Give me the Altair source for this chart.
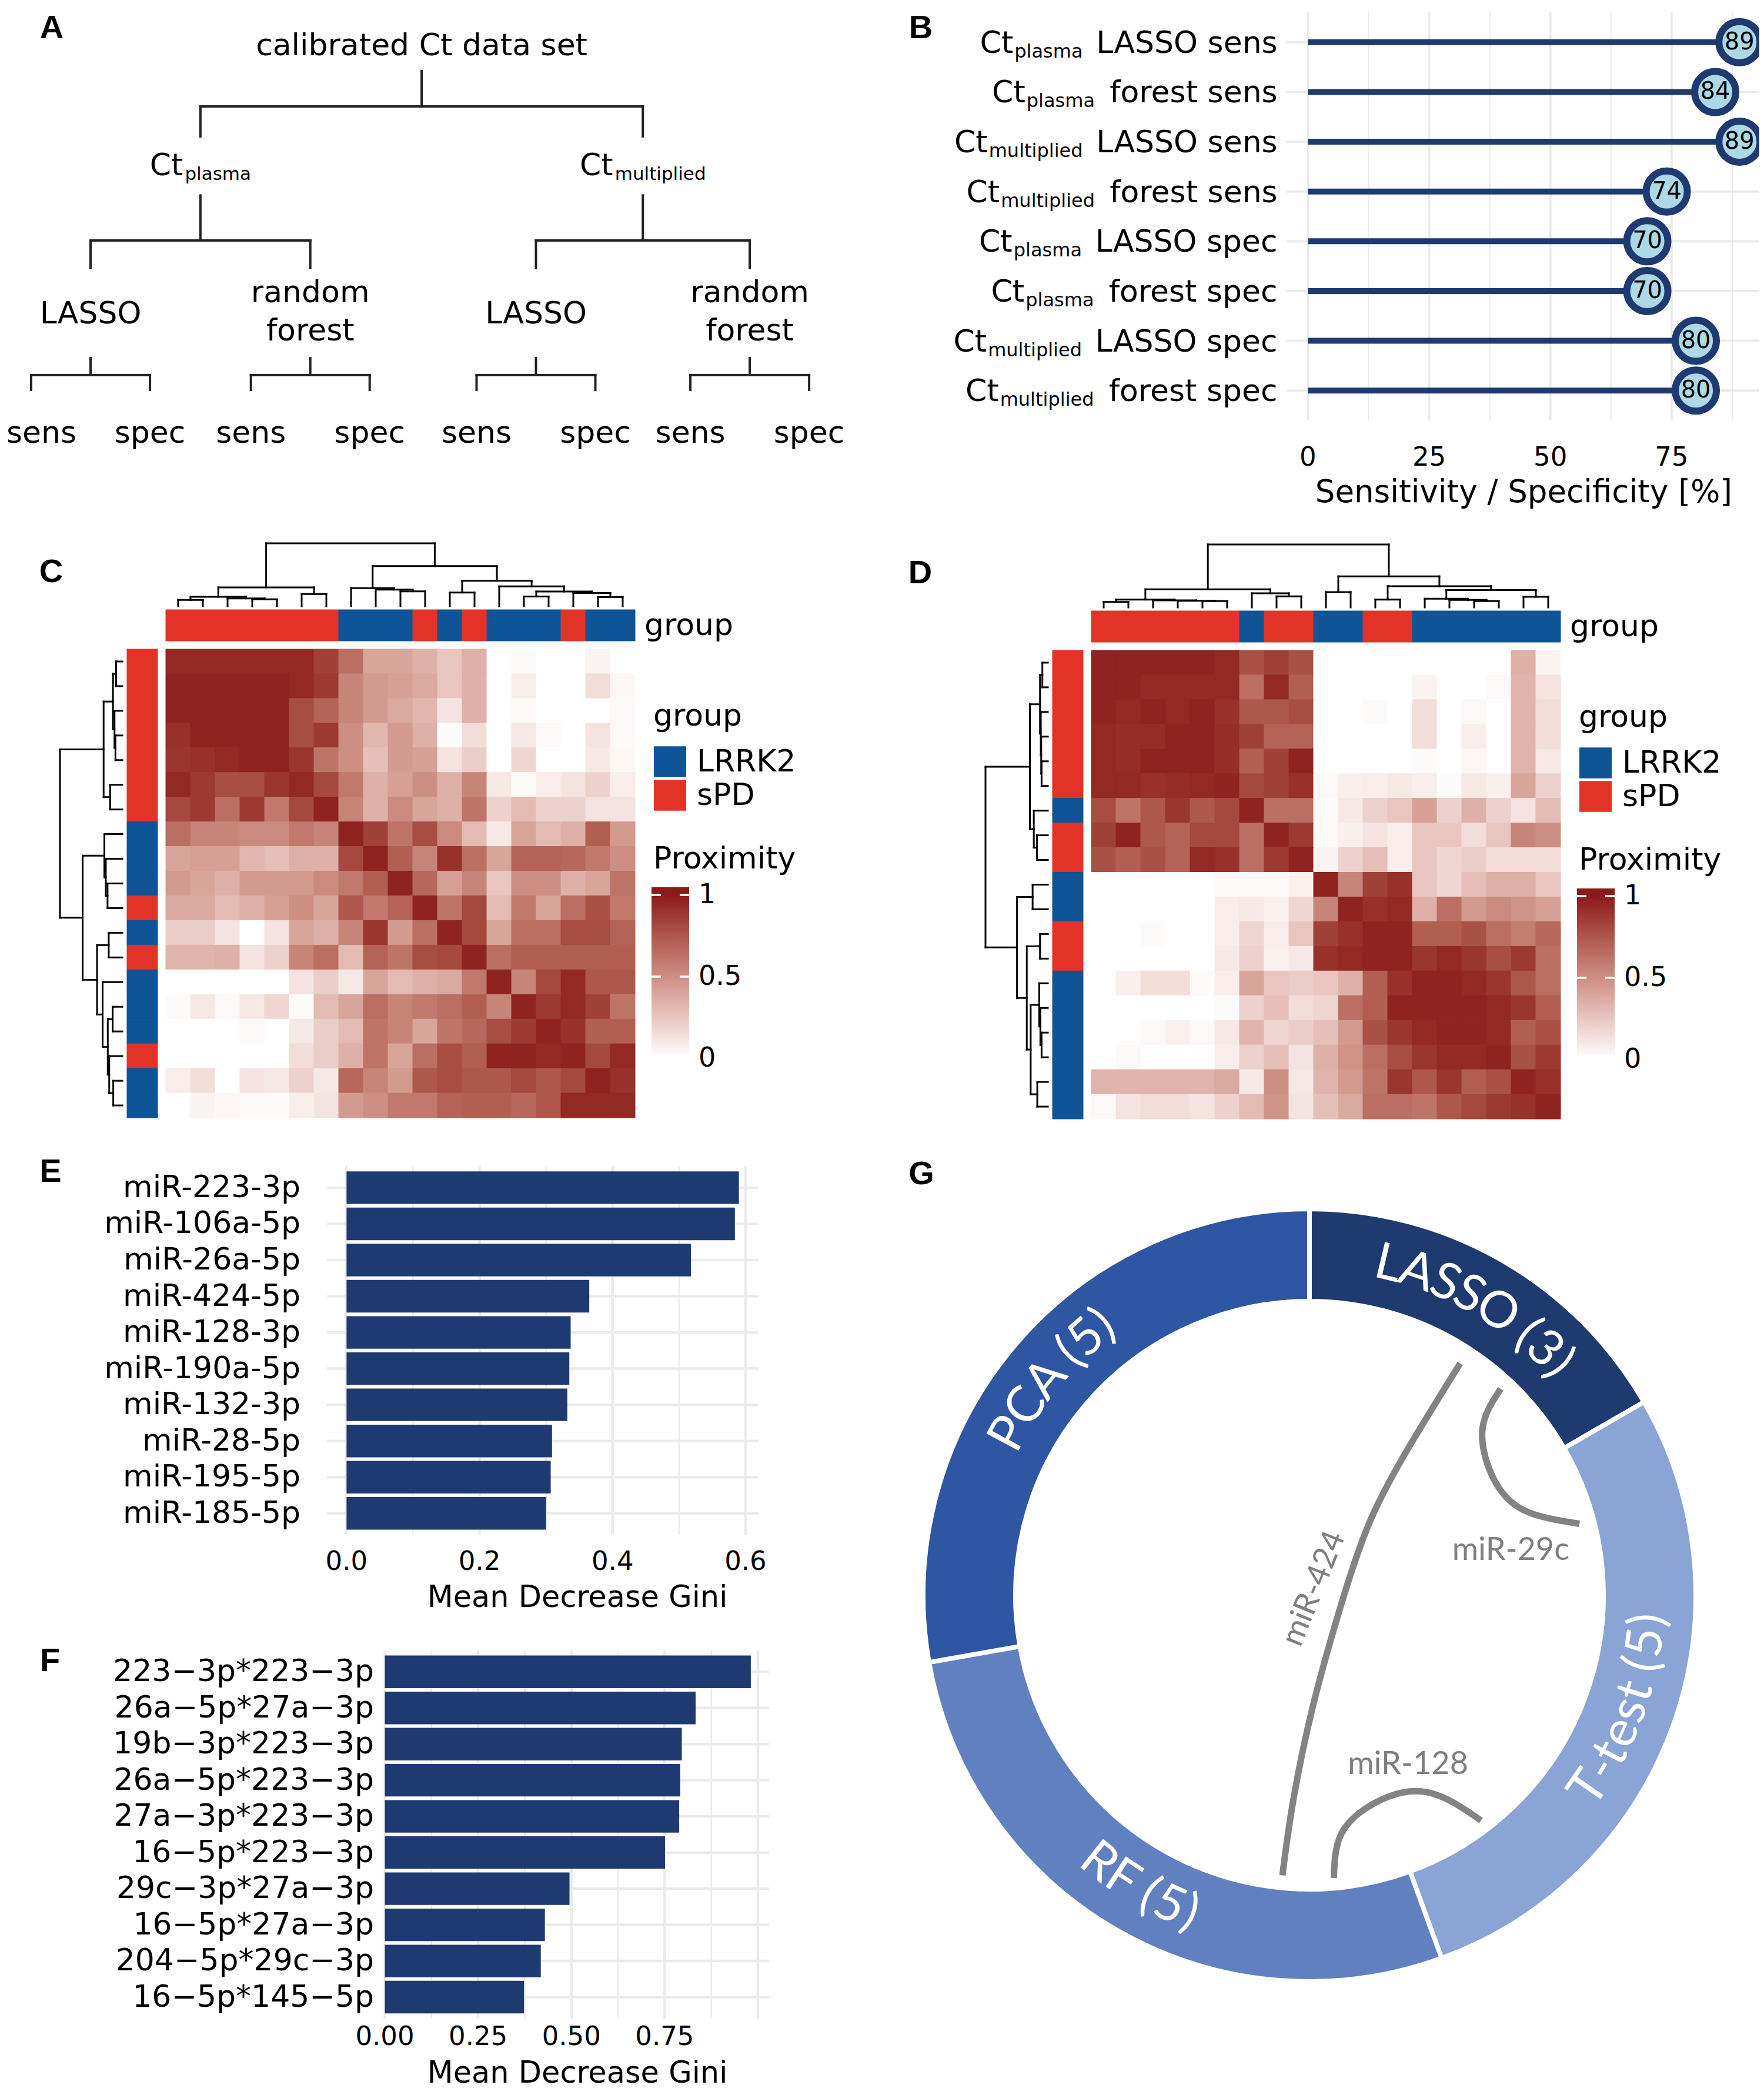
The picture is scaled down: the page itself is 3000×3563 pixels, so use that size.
import math
import altair as alt
import pandas as pd

# ------------------------------------------------------------------ data
A_ROOT = "calibrated Ct data set"
A_SUB = ["plasma", "multiplied"]
A_METHODS = ["LASSO", "random\nforest", "LASSO", "random\nforest"]
A_LEAVES = ["sens", "spec", "sens", "spec", "sens", "spec", "sens", "spec"]
A_LEAF_SLOTS = [0, 1, 1.85, 2.85, 3.75, 4.75, 5.55, 6.55]

B_SUB = ["plasma", "plasma", "multiplied", "multiplied", "plasma", "plasma", "multiplied", "multiplied"]
B_MAIN = ["LASSO sens", "forest sens", "LASSO sens", "forest sens",
          "LASSO spec", "forest spec", "LASSO spec", "forest spec"]
B_VALUES = [89, 84, 89, 74, 70, 70, 80, 80]
B_TICKS = [0, 25, 50, 75]
B_MINOR = [12.5, 37.5, 62.5, 87.5]

C_GROUPS = ["sPD"] * 7 + ["LRRK2"] * 3 + ["sPD", "LRRK2", "sPD"] + ["LRRK2"] * 3 + ["sPD"] + ["LRRK2"] * 2
C_MATRIX = [
    [0.95, 0.95, 0.95, 0.95, 0.95, 0.95, 0.85, 0.65, 0.40, 0.40, 0.35, 0.25, 0.35, 0.00, 0.02, 0.00, 0.00, 0.05, 0.00],
    [0.97, 0.97, 0.97, 0.97, 0.97, 0.95, 0.88, 0.55, 0.45, 0.42, 0.38, 0.25, 0.35, 0.00, 0.08, 0.00, 0.00, 0.15, 0.04],
    [0.97, 0.97, 0.97, 0.97, 0.97, 0.80, 0.70, 0.55, 0.45, 0.38, 0.32, 0.12, 0.35, 0.00, 0.03, 0.00, 0.00, 0.00, 0.03],
    [0.92, 0.97, 0.97, 0.97, 0.97, 0.80, 0.88, 0.50, 0.32, 0.45, 0.35, 0.02, 0.15, 0.00, 0.10, 0.03, 0.00, 0.12, 0.03],
    [0.90, 0.92, 0.95, 0.97, 0.97, 0.90, 0.62, 0.50, 0.28, 0.45, 0.42, 0.12, 0.22, 0.00, 0.18, 0.00, 0.00, 0.10, 0.04],
    [0.95, 0.88, 0.80, 0.80, 0.90, 0.95, 0.82, 0.60, 0.35, 0.42, 0.50, 0.35, 0.55, 0.10, 0.03, 0.08, 0.12, 0.20, 0.08],
    [0.82, 0.88, 0.65, 0.88, 0.60, 0.82, 0.97, 0.55, 0.35, 0.52, 0.40, 0.35, 0.62, 0.20, 0.30, 0.20, 0.20, 0.12, 0.12],
    [0.65, 0.55, 0.55, 0.52, 0.52, 0.60, 0.55, 0.97, 0.85, 0.62, 0.80, 0.52, 0.30, 0.10, 0.40, 0.30, 0.35, 0.72, 0.45],
    [0.40, 0.42, 0.42, 0.32, 0.28, 0.35, 0.35, 0.82, 0.97, 0.72, 0.55, 0.92, 0.65, 0.40, 0.70, 0.70, 0.68, 0.60, 0.50],
    [0.45, 0.40, 0.35, 0.45, 0.45, 0.45, 0.52, 0.60, 0.72, 0.97, 0.68, 0.42, 0.55, 0.25, 0.50, 0.50, 0.35, 0.40, 0.62],
    [0.38, 0.38, 0.30, 0.35, 0.42, 0.50, 0.40, 0.75, 0.60, 0.70, 0.97, 0.62, 0.82, 0.30, 0.60, 0.40, 0.65, 0.78, 0.60],
    [0.22, 0.22, 0.12, 0.00, 0.12, 0.40, 0.35, 0.55, 0.90, 0.45, 0.65, 0.97, 0.82, 0.40, 0.65, 0.65, 0.80, 0.80, 0.70],
    [0.33, 0.33, 0.35, 0.12, 0.20, 0.55, 0.65, 0.30, 0.70, 0.62, 0.80, 0.82, 0.97, 0.65, 0.72, 0.72, 0.72, 0.72, 0.72],
    [0.00, 0.00, 0.00, 0.00, 0.00, 0.12, 0.22, 0.10, 0.40, 0.30, 0.35, 0.38, 0.60, 0.97, 0.55, 0.82, 0.95, 0.75, 0.75],
    [0.02, 0.10, 0.03, 0.10, 0.18, 0.02, 0.30, 0.40, 0.65, 0.55, 0.60, 0.65, 0.72, 0.55, 0.97, 0.88, 0.95, 0.85, 0.62],
    [0.00, 0.00, 0.00, 0.03, 0.00, 0.10, 0.22, 0.30, 0.62, 0.55, 0.40, 0.62, 0.68, 0.80, 0.88, 0.97, 0.92, 0.72, 0.72],
    [0.00, 0.00, 0.00, 0.00, 0.00, 0.15, 0.22, 0.35, 0.62, 0.40, 0.65, 0.80, 0.72, 0.97, 0.97, 0.95, 0.97, 0.82, 0.95],
    [0.08, 0.15, 0.00, 0.12, 0.10, 0.20, 0.10, 0.68, 0.55, 0.45, 0.75, 0.80, 0.75, 0.75, 0.82, 0.75, 0.82, 0.97, 0.92],
    [0.00, 0.05, 0.04, 0.02, 0.02, 0.08, 0.12, 0.45, 0.50, 0.60, 0.60, 0.70, 0.72, 0.72, 0.68, 0.75, 0.95, 0.95, 0.95],
]
# merges (left, right, height) - scipy style, leaves 0..18
C_LINKAGE = [
    (0, 1, 0.10), (3, 4, 0.11), (2, 20, 0.125), (19, 21, 0.15), (5, 6, 0.195), (22, 23, 0.30),
    (9, 10, 0.237), (8, 25, 0.265), (7, 26, 0.288), (11, 12, 0.218), (14, 15, 0.155),
    (17, 18, 0.145), (16, 30, 0.21), (29, 31, 0.233), (13, 32, 0.316), (28, 33, 0.405),
    (27, 34, 0.637), (24, 35, 1.0),
]

D_GROUPS = ["sPD"] * 6 + ["LRRK2"] + ["sPD"] * 2 + ["LRRK2"] * 2 + ["sPD"] * 2 + ["LRRK2"] * 6
D_MATRIX = [
    [0.97, 0.97, 0.97, 0.97, 0.97, 0.95, 0.78, 0.85, 0.78, 0.00, 0.00, 0.00, 0.00, 0.00, 0.00, 0.00, 0.00, 0.35, 0.05],
    [0.97, 0.97, 0.95, 0.95, 0.95, 0.95, 0.65, 0.95, 0.72, 0.00, 0.00, 0.00, 0.00, 0.05, 0.00, 0.00, 0.03, 0.33, 0.12],
    [0.97, 0.95, 0.97, 0.95, 0.97, 0.92, 0.75, 0.75, 0.80, 0.00, 0.00, 0.02, 0.00, 0.15, 0.00, 0.03, 0.00, 0.33, 0.15],
    [0.95, 0.93, 0.93, 0.97, 0.97, 0.93, 0.85, 0.70, 0.70, 0.00, 0.00, 0.00, 0.00, 0.15, 0.00, 0.08, 0.00, 0.33, 0.15],
    [0.95, 0.93, 0.97, 0.97, 0.97, 0.93, 0.72, 0.85, 0.97, 0.00, 0.00, 0.00, 0.00, 0.02, 0.00, 0.04, 0.00, 0.33, 0.10],
    [0.95, 0.95, 0.92, 0.93, 0.95, 0.97, 0.82, 0.85, 0.92, 0.03, 0.07, 0.08, 0.10, 0.08, 0.02, 0.10, 0.07, 0.40, 0.20],
    [0.80, 0.62, 0.75, 0.90, 0.75, 0.82, 0.97, 0.65, 0.65, 0.02, 0.10, 0.20, 0.25, 0.42, 0.20, 0.35, 0.20, 0.12, 0.30],
    [0.85, 0.97, 0.75, 0.70, 0.82, 0.82, 0.65, 0.97, 0.88, 0.02, 0.07, 0.12, 0.08, 0.25, 0.25, 0.15, 0.25, 0.55, 0.50],
    [0.78, 0.72, 0.78, 0.70, 0.95, 0.92, 0.65, 0.88, 0.97, 0.05, 0.20, 0.28, 0.08, 0.25, 0.18, 0.22, 0.15, 0.15, 0.15],
    [0.00, 0.00, 0.00, 0.00, 0.00, 0.03, 0.03, 0.03, 0.06, 0.97, 0.55, 0.85, 0.92, 0.25, 0.18, 0.28, 0.35, 0.35, 0.25],
    [0.00, 0.00, 0.00, 0.00, 0.00, 0.08, 0.10, 0.06, 0.18, 0.55, 0.97, 0.92, 0.95, 0.35, 0.65, 0.45, 0.52, 0.48, 0.42],
    [0.00, 0.00, 0.02, 0.00, 0.00, 0.08, 0.18, 0.08, 0.25, 0.85, 0.92, 0.97, 0.97, 0.72, 0.72, 0.78, 0.65, 0.58, 0.68],
    [0.00, 0.00, 0.00, 0.00, 0.00, 0.10, 0.20, 0.06, 0.10, 0.92, 0.95, 0.97, 0.97, 0.90, 0.95, 0.90, 0.80, 0.88, 0.65],
    [0.00, 0.07, 0.15, 0.15, 0.02, 0.08, 0.40, 0.25, 0.22, 0.25, 0.35, 0.72, 0.92, 0.97, 0.97, 0.95, 0.90, 0.75, 0.65],
    [0.00, 0.00, 0.00, 0.00, 0.00, 0.02, 0.20, 0.28, 0.15, 0.18, 0.65, 0.72, 0.97, 0.97, 0.97, 0.97, 0.95, 0.90, 0.72],
    [0.00, 0.00, 0.03, 0.06, 0.03, 0.10, 0.33, 0.18, 0.22, 0.28, 0.45, 0.78, 0.90, 0.95, 0.97, 0.97, 0.95, 0.72, 0.78],
    [0.00, 0.03, 0.00, 0.00, 0.00, 0.08, 0.20, 0.28, 0.12, 0.35, 0.48, 0.65, 0.80, 0.90, 0.95, 0.95, 0.97, 0.78, 0.88],
    [0.33, 0.33, 0.33, 0.33, 0.33, 0.38, 0.10, 0.50, 0.10, 0.33, 0.45, 0.62, 0.90, 0.75, 0.90, 0.72, 0.78, 0.97, 0.92],
    [0.03, 0.12, 0.15, 0.15, 0.12, 0.20, 0.30, 0.48, 0.12, 0.28, 0.38, 0.65, 0.65, 0.62, 0.75, 0.82, 0.88, 0.92, 0.97],
]
D_LINKAGE = [
    (0, 1, 0.0875), (4, 5, 0.10), (3, 20, 0.106), (2, 21, 0.1125), (19, 22, 0.125),
    (7, 8, 0.175), (6, 24, 0.225), (23, 25, 0.2875), (9, 10, 0.244), (11, 12, 0.125),
    (15, 16, 0.10), (14, 29, 0.119), (13, 30, 0.1375), (17, 18, 0.169), (31, 32, 0.275),
    (28, 33, 0.3375), (27, 34, 0.494), (26, 35, 1.0),
]

E_NAMES = ["miR-223-3p", "miR-106a-5p", "miR-26a-5p", "miR-424-5p", "miR-128-3p",
           "miR-190a-5p", "miR-132-3p", "miR-28-5p", "miR-195-5p", "miR-185-5p"]
E_VALUES = [0.590, 0.584, 0.518, 0.365, 0.337, 0.335, 0.332, 0.309, 0.307, 0.300]
E_TICKS = [0.0, 0.2, 0.4, 0.6]
E_MINOR = [0.1, 0.3, 0.5]

M = "\u2212"
F_NAMES = [f"223{M}3p*223{M}3p", f"26a{M}5p*27a{M}3p", f"19b{M}3p*223{M}3p", f"26a{M}5p*223{M}3p",
           f"27a{M}3p*223{M}3p", f"16{M}5p*223{M}3p", f"29c{M}3p*27a{M}3p", f"16{M}5p*27a{M}3p",
           f"204{M}5p*29c{M}3p", f"16{M}5p*145{M}5p"]
F_VALUES = [0.981, 0.833, 0.796, 0.792, 0.789, 0.751, 0.495, 0.429, 0.418, 0.373]
F_TICKS = [0.0, 0.25, 0.5, 0.75]
F_GRID = [0.0, 0.25, 0.5, 0.75, 1.0]
F_MINOR = [0.125, 0.375, 0.625, 0.875]

G_SETS = ["LASSO", "T-test", "RF", "PCA"]
G_COUNTS = [3, 5, 5, 5]
G_COLORS = ["#1E3A6E", "#89A4D5", "#6080C0", "#2E56A3"]
G_LINKS = ["miR-424", "miR-29c", "miR-128"]
G_LINK_PATHS = [
    [(0.390, 0.600), (0.269, 0.403), (0.160, 0.199), (0.080, -0.031), (0.007, -0.295), (-0.044, -0.543), (-0.070, -0.725)],
    [(0.495, 0.534), (0.448, 0.432), (0.473, 0.309), (0.553, 0.221), (0.699, 0.185)],
    [(0.063, -0.732), (0.080, -0.623), (0.160, -0.543), (0.298, -0.509), (0.444, -0.583)],
]
G_LINK_LABEL_POS = [(0.012, 0.017), (0.521, 0.115), (0.255, -0.438)]
G_LINK_LABEL_ANGLE = [292, 0, 0]

LETTERS = [("A", 88, 48), ("B", 1566, 48), ("C", 87, 973), ("D", 1565, 975),
           ("E", 86, 1993), ("F", 85, 2825), ("G", 1567, 1997)]

# ------------------------------------------------------------------ style
OFF = 8
W, H = 2984, 3547
FONT = "DejaVu Sans"
GFONT = "Lato"
NAVY = "#1F3A70"
GRID = "#EBEBEB"
BLUE = "#0E5497"
RED = "#E33228"
DARK = "#8B1A1A"
LIGHT = "#ADD8E6"
LINKC = "#838383"

DJV = {' ': 651, '(': 799, ')': 799, '*': 1024, '-': 739, '.': 651, '/': 690, '%': 1946, '[': 799,
       ']': 799, '\u2212': 1716, 'A': 1401, 'B': 1405, 'C': 1430, 'D': 1577, 'E': 1294, 'F': 1178,
       'G': 1587, 'K': 1343, 'L': 1141, 'M': 1767, 'O': 1612, 'P': 1235, 'R': 1423, 'S': 1300,
       'T': 1251, 'a': 1255, 'b': 1300, 'c': 1126, 'd': 1300, 'e': 1260, 'f': 721, 'g': 1300,
       'h': 1298, 'i': 569, 'l': 569, 'm': 1995, 'n': 1298, 'o': 1253, 'p': 1300, 'r': 842,
       's': 1067, 't': 803, 'u': 1298, 'v': 1212, 'x': 1212, 'y': 1212}
LATO = {'L': 0.50, 'A': 0.68, 'S': 0.52, 'O': 0.78, ' ': 0.20, '(': 0.31, ')': 0.31, '3': 0.58,
        '5': 0.58, 'T': 0.59, '-': 0.34, 't': 0.37, 'e': 0.53, 's': 0.42, 'R': 0.60, 'F': 0.54,
        'P': 0.58, 'C': 0.67}


def tw(s, size):
    return sum(DJV.get(ch, 1303) for ch in s) / 2048.0 * size


def sc(domain, rng):
    return alt.Scale(domain=list(domain), range=[r - OFF for r in rng], nice=False, zero=False)


def inv(px, domain, rng):
    d0, d1 = domain
    p0, p1 = rng
    return d0 + (px - p0) * (d1 - d0) / (p1 - p0)


# LAB interpolation white -> DARK (for the colour bar stops)
def _tolin(c):
    c = c / 255.0
    return c / 12.92 if c <= 0.04045 else ((c + 0.055) / 1.055) ** 2.4


def _togam(c):
    c = 12.92 * c if c <= 0.0031308 else 1.055 * (max(c, 0) ** (1 / 2.4)) - 0.055
    return max(0, min(255, int(round(c * 255))))


def _f(t):
    return t ** (1 / 3) if t > 0.008856 else 7.787 * t + 16 / 116


def _finv(t):
    return t ** 3 if t ** 3 > 0.008856 else (t - 16 / 116) / 7.787


def hex2lab(h):
    r, g, b = (_tolin(int(h[i:i + 2], 16)) for i in (1, 3, 5))
    X = (0.4124 * r + 0.3576 * g + 0.1805 * b) / 0.95047
    Y = 0.2126 * r + 0.7152 * g + 0.0722 * b
    Z = (0.0193 * r + 0.1192 * g + 0.9505 * b) / 1.08883
    return 116 * _f(Y) - 16, 500 * (_f(X) - _f(Y)), 200 * (_f(Y) - _f(Z))


def lab2hex(L, a, b):
    fy = (L + 16) / 116
    X = _finv(fy + a / 500) * 0.95047
    Y = _finv(fy)
    Z = _finv(fy - b / 200) * 1.08883
    r = 3.2406 * X - 1.5372 * Y - 0.4986 * Z
    g = -0.9689 * X + 1.8758 * Y + 0.0415 * Z
    bb = 0.0557 * X - 0.2040 * Y + 1.0570 * Z
    return "#%02X%02X%02X" % (_togam(r), _togam(g), _togam(bb))


LAB0, LAB1 = hex2lab("#FFFFFF"), hex2lab(DARK)


def heat_color(t):
    t = max(0.0, min(1.0, t))
    return lab2hex(*[p + (q - p) * t for p, q in zip(LAB0, LAB1)])


LAYERS = []


def rules(rows, xs, ys, color="black", width=3, cap="butt"):
    df = pd.DataFrame(rows, columns=["x", "y", "x2", "y2"])
    LAYERS.append(alt.Chart(df).mark_rule(color=color, strokeWidth=width, strokeCap=cap).encode(
        x=alt.X("x:Q", scale=xs, axis=None), y=alt.Y("y:Q", scale=ys, axis=None),
        x2="x2", y2="y2"))


def texts(rows, xs, ys, size, align="center", baseline="middle", font=FONT, color="black",
          dy=0, weight="normal", line_height=None, angle=None, angle_field=False):
    cols = ["x", "y", "t"] + (["a"] if angle_field else [])
    df = pd.DataFrame(rows, columns=cols)
    kw = dict(fontSize=size, align=align, baseline=baseline, font=font, color=color, fontWeight=weight)
    if dy:
        kw["dy"] = dy
    if line_height:
        kw["lineBreak"] = "\n"
        kw["lineHeight"] = line_height
    if angle:
        kw["angle"] = angle
    enc = dict(x=alt.X("x:Q", scale=xs, axis=None), y=alt.Y("y:Q", scale=ys, axis=None),
               text=alt.Text("t:N"))
    if angle_field:
        enc["angle"] = alt.Angle("a:Q", scale=None)
    LAYERS.append(alt.Chart(df).mark_text(**kw).encode(**enc))


def rects(rows, xs, ys, fill):
    df = pd.DataFrame(rows, columns=["x", "y", "x2", "y2"])
    LAYERS.append(alt.Chart(df).mark_rect(fill=fill).encode(
        x=alt.X("x:Q", scale=xs, axis=None), y=alt.Y("y:Q", scale=ys, axis=None),
        x2="x2", y2="y2"))


# ------------------------------------------------------------------ panel A
A_XD, A_XR = (0, 6.55), (53, 1376.1)
Ax = sc(A_XD, A_XR)
Ay = alt.Scale(domain=[0, 1, 2, 3], range=[78 - OFF, 282 - OFF, 534 - OFF, 737 - OFF], nice=False, zero=False)
A_PPS = (A_XR[1] - A_XR[0]) / (A_XD[1] - A_XD[0])
l2x = [(A_LEAF_SLOTS[2 * k] + A_LEAF_SLOTS[2 * k + 1]) / 2 for k in range(4)]
l1x = [(l2x[0] + l2x[1]) / 2, (l2x[2] + l2x[3]) / 2]
rootx = (l1x[0] + l1x[1]) / 2
STEM = [0.21, 1.2, 2.37]
BARL = [0.505, 1.504, 2.512]
DROP = [0.755, 1.69, 2.635]
tree = [(0, rootx, l1x), (1, l1x[0], l2x[0:2]), (1, l1x[1], l2x[2:4])]
tree += [(2, l2x[k], A_LEAF_SLOTS[2 * k:2 * k + 2]) for k in range(4)]
seg = []
for lvl, px, kids in tree:
    seg.append((px, STEM[lvl], px, BARL[lvl]))
    seg.append((min(kids), BARL[lvl], max(kids), BARL[lvl]))
    for kx in kids:
        seg.append((kx, BARL[lvl], kx, DROP[lvl]))
rules(seg, Ax, Ay, "#222222", 4, "square")
texts([(rootx, 0, A_ROOT)], Ax, Ay, 52)
ct_rows, sub_rows = [], []
for x, sub in zip(l1x, A_SUB):
    wct, wsub = tw("Ct", 52), tw(sub, 31)
    left = x - (wct + 3 + wsub) / 2 / A_PPS
    ct_rows.append((left, 1, "Ct"))
    sub_rows.append((left + (wct + 3) / A_PPS, 1, sub))
texts(ct_rows, Ax, Ay, 52, align="left", baseline="alphabetic", dy=16)
texts(sub_rows, Ax, Ay, 31, align="left", baseline="alphabetic", dy=24)
one_line = [(x, 2, t) for x, t in zip(l2x, A_METHODS) if "\n" not in t]
two_line = [(x, 2, t) for x, t in zip(l2x, A_METHODS) if "\n" in t]
texts(one_line, Ax, Ay, 52)
texts(two_line, Ax, Ay, 52, line_height=65, dy=-36)
# keep the first leaf label inside the page
min_center = inv(10 + tw("sens", 52) / 2 + 1, A_XD, A_XR)
texts([(max(x, min_center), 3, t) for x, t in zip(A_LEAF_SLOTS, A_LEAVES)], Ax, Ay, 52)

# ------------------------------------------------------------------ panel B
B_XD, B_XR = (-4.45, 93.45), (2187.7, 2995.0)
B_YD, B_YR = (-0.6, 7.6), (21, 715)
Bx, By = sc(B_XD, B_XR), sc(B_YD, B_YR)
BPX = (B_XR[1] - B_XR[0]) / (B_XD[1] - B_XD[0])
nB = len(B_VALUES)
rules([(v, B_YD[0], v, B_YD[1]) for v in B_MINOR], Bx, By, GRID, 2)
rules([(v, B_YD[0], v, B_YD[1]) for v in B_TICKS], Bx, By, GRID, 4)
rules([(B_XD[0], i, B_XD[1], i) for i in range(nB)], Bx, By, GRID, 4)
rules([(0, i, v, i) for i, v in enumerate(B_VALUES)], Bx, By, NAVY, 10)
LAYERS.append(alt.Chart(pd.DataFrame({"x": B_VALUES, "y": list(range(nB))})).mark_point(
    shape="circle", filled=True, fill=LIGHT, stroke=NAVY, strokeWidth=12, size=4900, opacity=1,
    fillOpacity=1, strokeOpacity=1).encode(
    x=alt.X("x:Q", scale=Bx, axis=None), y=alt.Y("y:Q", scale=By, axis=None)))
texts([(v, i, str(v)) for i, v in enumerate(B_VALUES)], Bx, By, 40)
xr = inv(2172.7, B_XD, B_XR)
mrows, srows, crows = [], [], []
for i, (s, m) in enumerate(zip(B_SUB, B_MAIN)):
    sr = xr - (tw(m, 52) + 24) / BPX
    mrows.append((xr, i, m))
    srows.append((sr, i, s))
    crows.append((sr - (tw(s, 32) + 2) / BPX, i, "Ct"))
texts(mrows, Bx, By, 52, align="right", baseline="alphabetic", dy=18)
texts(srows, Bx, By, 32, align="right", baseline="alphabetic", dy=26)
texts(crows, Bx, By, 52, align="right", baseline="alphabetic", dy=18)
texts([(v, inv(778, B_YD, B_YR), str(v)) for v in B_TICKS], Bx, By, 45)
texts([((B_XD[0] + B_XD[1]) / 2, inv(838, B_YD, B_YR), "Sensitivity / Specificity [%]")], Bx, By, 53)


# ------------------------------------------------------------------ panels C, D
def dendro_segments(link, n):
    pos = {i: i + 0.5 for i in range(n)}
    hgt = {i: 0.0 for i in range(n)}
    out = []
    for k, (a, b, h) in enumerate(link):
        xa, xb = pos[a], pos[b]
        out.append((xa, hgt[a], xa, h))
        out.append((xb, hgt[b], xb, h))
        out.append((xa, h, xb, h))
        pos[n + k] = (xa + xb) / 2
        hgt[n + k] = h
    return out


heat_scale = dict(domain=[0, 1], range=["#FFFFFF", DARK], interpolate="lab")
grp_scale = dict(domain=["LRRK2", "sPD"], range=[BLUE, RED])


def heatmap(mat, groups, link, dx, dy):
    n = len(mat)
    HXD, HXR = (0, n), (282 + dx, 1080 + dx)
    X, Y = sc(HXD, HXR), sc((0, n), (1104 + dy, 1901 + dy))
    cells = [dict(x=c, x2=c + 1, y=r, y2=r + 1, v=mat[r][c]) for r in range(n) for c in range(n)]
    LAYERS.append(alt.Chart(pd.DataFrame(cells)).mark_rect(strokeWidth=1).encode(
        x=alt.X("x:Q", scale=X, axis=None), x2="x2", y=alt.Y("y:Q", scale=Y, axis=None), y2="y2",
        color=alt.Color("v:Q", scale=alt.Scale(**heat_scale), legend=None),
        stroke=alt.Stroke("v:Q", scale=alt.Scale(**heat_scale), legend=None)))
    # annotation bars
    Yb = sc((0, 1), (1037 + dy, 1090 + dy))
    cb = [dict(x=c, x2=c + 1, y=0, y2=1, g=groups[c]) for c in range(n)]
    LAYERS.append(alt.Chart(pd.DataFrame(cb)).mark_rect(strokeWidth=1).encode(
        x=alt.X("x:Q", scale=X, axis=None), x2="x2", y=alt.Y("y:Q", scale=Yb, axis=None), y2="y2",
        color=alt.Color("g:N", scale=alt.Scale(**grp_scale), legend=None),
        stroke=alt.Stroke("g:N", scale=alt.Scale(**grp_scale), legend=None)))
    Xb = sc((0, 1), (216 + dx, 268 + dx))
    rb = [dict(x=0, x2=1, y=r, y2=r + 1, g=groups[r]) for r in range(n)]
    LAYERS.append(alt.Chart(pd.DataFrame(rb)).mark_rect(strokeWidth=1).encode(
        x=alt.X("x:Q", scale=Xb, axis=None), x2="x2", y=alt.Y("y:Q", scale=Y, axis=None), y2="y2",
        color=alt.Color("g:N", scale=alt.Scale(**grp_scale), legend=None),
        stroke=alt.Stroke("g:N", scale=alt.Scale(**grp_scale), legend=None)))
    # dendrograms
    segs = dendro_segments(link, n)
    rules(segs, X, sc((0, 1), (1031 + dy, 924 + dy)), "black", 3, "square")
    rules([(h1, p1, h2, p2) for (p1, h1, p2, h2) in segs], sc((0, 1), (208 + dx, 102 + dx)), Y,
          "black", 3, "square")
    texts([(inv(1096 + dx, HXD, HXR), 0.5, "group")], X, Yb, 52, align="left")
    # group legend
    LXD, LXR = (0, 1), (1112 + dx, 1167 + dx)
    LYD, LYR = (0, 2), (1267 + dy, 1381 + dy)
    LX, LY = sc(LXD, LXR), sc(LYD, LYR)
    sq = [dict(x=0, x2=1, y=k + 0.04, y2=k + 0.96, g=g) for k, g in enumerate(["LRRK2", "sPD"])]
    LAYERS.append(alt.Chart(pd.DataFrame(sq)).mark_rect().encode(
        x=alt.X("x:Q", scale=LX, axis=None), x2="x2", y=alt.Y("y:Q", scale=LY, axis=None), y2="y2",
        color=alt.Color("g:N", scale=alt.Scale(**grp_scale), legend=None)))
    texts([(inv(1111 + dx, LXD, LXR), inv(1218 + dy, LYD, LYR), "group")], LX, LY, 52, align="left")
    texts([(inv(1185 + dx, LXD, LXR), k + 0.5, g) for k, g in enumerate(["LRRK2", "sPD"])],
          LX, LY, 52, align="left")
    # colour bar
    CXD, CXR = (0, 1), (1108 + dx, 1172 + dx)
    CYD, CYR = (0, 1), (1800 + dy, 1522 + dy)
    CX, CY = sc(CXD, CXR), sc(CYD, CYR)
    lo, hi = 0.025, 1.047
    stops = []
    for v in [0.025, 0.25, 0.5, 0.75, 1.0]:
        stops.append(alt.GradientStop(color=heat_color(v), offset=(v - lo) / (hi - lo)))
    stops.append(alt.GradientStop(color=heat_color(1.0), offset=1))
    grad = alt.LinearGradient(gradient="linear", stops=stops, x1=0, x2=0, y1=1, y2=0)
    rects([(0, lo, 1, hi)], CX, CY, grad)
    rules([(0, v, 0.25, v) for v in (0.5, 1.0)] + [(0.75, v, 1, v) for v in (0.5, 1.0)],
          CX, CY, "white", 3.5)
    texts([(inv(1188 + dx, CXD, CXR), v, t) for v, t in [(0, "0"), (0.5, "0.5"), (1, "1")]],
          CX, CY, 46, align="left")
    texts([(inv(1111 + dx, CXD, CXR), inv(1461 + dy, CYD, CYR), "Proximity")], CX, CY, 52, align="left")


heatmap(C_MATRIX, C_GROUPS, C_LINKAGE, 0, 0)
heatmap(D_MATRIX, D_GROUPS, D_LINKAGE, 1574, 2)


# ------------------------------------------------------------------ panels E, F
def barpanel(names, values, xd, xr, yd, yr, major, minor, ticks, fmt, label_px, tick_px, title_px):
    X, Y = sc(xd, xr), sc(yd, yr)
    rules([(v, yd[0], v, yd[1]) for v in minor], X, Y, GRID, 2.5)
    rules([(v, yd[0], v, yd[1]) for v in major], X, Y, GRID, 4.5)
    rules([(xd[0], i, xd[1], i) for i in range(len(values))], X, Y, GRID, 4.5)
    rects([(0, i - 0.45, v, i + 0.45) for i, v in enumerate(values)], X, Y, NAVY)
    texts([(inv(label_px, xd, xr), i, nm) for i, nm in enumerate(names)], X, Y, 52, align="right")
    texts([(v, inv(tick_px, yd, yr), fmt.format(v)) for v in ticks], X, Y, 45)
    texts([(inv(title_px[0], xd, xr), inv(title_px[1], yd, yr), "Mean Decrease Gini")], X, Y, 51)


barpanel(E_NAMES, E_VALUES, (-0.0295, 0.6195), (556, 1290), (-0.6, 9.6), (1983, 2610.7),
         E_TICKS, E_MINOR, E_TICKS, "{:.1f}", 511, 2655.6, (982, 2718))
barpanel(F_NAMES, F_VALUES, (0, 1.03), (654.5, 1308), (-0.6, 9.6), (2806.4, 3433.4),
         F_GRID, F_MINOR, F_TICKS, "{:.2f}", 636, 3464, (982, 3527))

# ------------------------------------------------------------------ panel G
G_XD, G_XR = (-1, 1), (1570, 2884)
G_YD, G_YR = (-1, 1), (3370, 2056)
Gx, Gy = sc(G_XD, G_XR), sc(G_YD, G_YR)
R_OUT = 657.0
R_IN = 500.0 / R_OUT
cum = [0]
for c in G_COUNTS:
    cum.append(cum[-1] + c)
ring = pd.DataFrame({"set": G_SETS, "c0": cum[:-1], "c1": cum[1:], "cx": 0.0, "cy": 0.0,
                     "ro": 1.0, "ri": R_IN})
LAYERS.append(alt.Chart(ring).mark_arc(stroke="white", strokeWidth=8).encode(
    x=alt.X("cx:Q", scale=Gx, axis=None), y=alt.Y("cy:Q", scale=Gy, axis=None),
    theta=alt.Theta("c0:Q", stack=False, scale=alt.Scale(domain=[0, cum[-1]], range=[0, 2 * math.pi])),
    theta2="c1",
    radius=alt.Radius("ro:Q", scale=alt.Scale(type="linear", domain=[0, 1], range=[0, R_OUT], zero=True, nice=False)),
    radius2="ri",
    color=alt.Color("set:N", scale=alt.Scale(domain=G_SETS, range=G_COLORS), legend=None)))

# curved ring labels
RT = (1 + R_IN) / 2
RT_PX = RT * R_OUT
GSIZE = 86
lab_rows = []
for s, c, a0, a1 in zip(G_SETS, G_COUNTS, cum[:-1], cum[1:]):
    label = f"{s} ({c})"
    center = (a0 + a1) / 2 / cum[-1] * 360
    ws = [LATO.get(ch, 0.55) * GSIZE for ch in label]
    total = sum(ws)
    upper = not (90 < center < 270)
    acc = 0.0
    for ch, w in zip(label, ws):
        off = math.degrees((acc + w / 2 - total / 2) / RT_PX)
        acc += w
        if ch == " ":
            continue
        th = center + off if upper else center - off
        rot = th if upper else th - 180
        lab_rows.append((RT * math.sin(math.radians(th)), RT * math.cos(math.radians(th)), ch, rot % 360))
texts(lab_rows, Gx, Gy, GSIZE, font=GFONT, color="white", angle_field=True)

# links
lk = []
for nm, pts in zip(G_LINKS, G_LINK_PATHS):
    for i, (x, y) in enumerate(pts):
        lk.append(dict(name=nm, i=i, x=x, y=y))
LAYERS.append(alt.Chart(pd.DataFrame(lk)).mark_line(color=LINKC, strokeWidth=11, interpolate="natural").encode(
    x=alt.X("x:Q", scale=Gx, axis=None), y=alt.Y("y:Q", scale=Gy, axis=None),
    detail="name:N", order="i:Q"))
for nm, (x, y), ang in zip(G_LINKS, G_LINK_LABEL_POS, G_LINK_LABEL_ANGLE):
    texts([(x, y, nm)], Gx, Gy, 54, font=GFONT, color="#7F7F7F", angle=ang)

# ------------------------------------------------------------------ panel letters
FX, FY = sc((0, 1), (0, 3563)), sc((0, 1), (0, 3563))
FX = sc((0, 1), (0, 3000))
texts([(x / 3000, y / 3563, t) for t, x, y in LETTERS], FX, FY, 56, font="Liberation Sans", weight="bold")

chart = alt.layer(*LAYERS).resolve_scale(
    x="independent", y="independent", color="independent", stroke="independent",
    theta="independent", radius="independent",
).properties(
    width=W, height=H, padding=0, background="white",
    autosize=alt.AutoSizeParams(type="none"),
).configure_view(stroke=None)

chart.save("out.html", embed_options={"renderer": "svg", "actions": False})
